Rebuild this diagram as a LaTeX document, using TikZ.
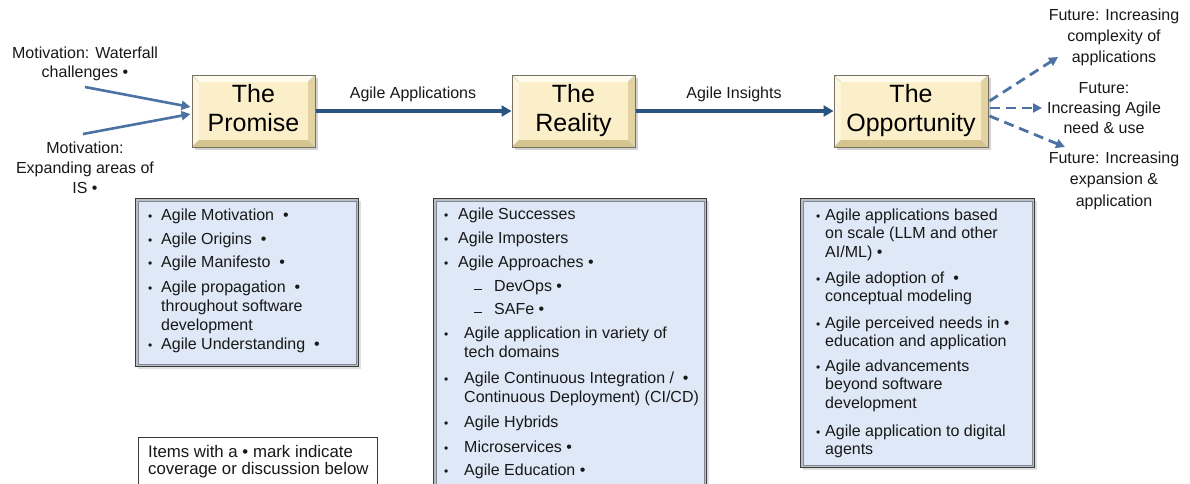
\documentclass[tikz,border=0pt]{standalone}
\usepackage{fontspec}
\setmainfont{Liberation Sans}
\usetikzlibrary{arrows.meta,calc,shadows}

\definecolor{arrowdark}{RGB}{42,84,128}
\definecolor{arrowlight}{RGB}{76,114,164}
\definecolor{stagefill}{RGB}{250,239,200}
\definecolor{stagelight}{RGB}{255,252,238}
\definecolor{stagedark}{RGB}{214,196,142}
\definecolor{stageedge}{RGB}{120,112,96}
\definecolor{listfill}{RGB}{222,232,246}
\definecolor{frameband}{RGB}{184,189,198}
\definecolor{frameinner}{RGB}{130,136,148}
\definecolor{ink}{RGB}{24,24,24}

% small leading bullet, hung to the left of the item text
\newcommand\lead[1]{\llap{{\fontsize{12}{12}\selectfont •}\hspace{#1}}}
% short low dash for second-level items
\newcommand\subdash{\llap{\rule[1pt]{8pt}{1.1pt}\hspace{12pt}}}
\newcommand\lines[1]{\begin{tabular}[t]{@{}l@{}}#1\end{tabular}}
\newcommand\clines[1]{\begin{tabular}[t]{@{}c@{}}#1\end{tabular}}

\tikzset{
  x=1pt, y=-1pt,
  bevel/.style={path picture={
    \path (path picture bounding box.north west) coordinate (p1)
          (path picture bounding box.north east) coordinate (p2)
          (path picture bounding box.south east) coordinate (p3)
          (path picture bounding box.south west) coordinate (p4);
    \path ([shift={(#1,-#1)}]p1) coordinate (q1)
          ([shift={(-#1,-#1)}]p2) coordinate (q2)
          ([shift={(-#1,#1)}]p3) coordinate (q3)
          ([shift={(#1,#1)}]p4) coordinate (q4);
    \fill[stagelight] (p1) -- (p2) -- (q2) -- (q1) -- cycle;
    \fill[stagelight!55!stagefill] (p1) -- (q1) -- (q4) -- (p4) -- cycle;
    \fill[stagedark] (p4) -- (q4) -- (q3) -- (p3) -- cycle;
    \fill[stagedark!65!stagefill] (p2) -- (p3) -- (q3) -- (q2) -- cycle;
    \draw[stageedge!35, line width=0.5pt] (p1) -- (q1) (p2) -- (q2) (p3) -- (q3) (p4) -- (q4);
  }},
  stagebox/.style={rectangle, minimum height=72pt, inner sep=0pt,
    fill=stagefill, draw=stageedge, line width=1pt, bevel=7pt,
    drop shadow={opacity=0.35, shadow xshift=2.5pt, shadow yshift=-2.5pt},
    font=\fontsize{25}{29}\selectfont, text=black},
  listbox/.style={rectangle, anchor=north west, inner sep=0pt,
    fill=listfill, draw=ink!85, line width=1.3pt,
    drop shadow={opacity=0.25, shadow xshift=2pt, shadow yshift=-2pt},
    path picture={
      \draw[frameband, line width=4pt]
        (path picture bounding box.north west) rectangle (path picture bounding box.south east);
      \draw[frameinner, line width=0.7pt]
        ([shift={(2.6pt,-2.6pt)}]path picture bounding box.north west) rectangle
        ([shift={(-2.6pt,2.6pt)}]path picture bounding box.south east);
    }},
  notebox/.style={rectangle, anchor=north west, inner sep=0pt,
    fill=white, draw=ink!85, line width=0.9pt},
  listline/.style={anchor=base west, inner sep=0pt, text=ink},
  caption/.style={anchor=base, inner sep=0pt, text=ink},
  mainarrow/.style={draw=arrowdark, line width=3.2pt,
    -{Triangle[length=10pt, width=11pt]}},
  motarrow/.style={draw=arrowlight, line width=2.6pt,
    -{Triangle[length=9pt, width=9pt]}},
  futarrow/.style={draw=arrowlight, line width=2.8pt,
    dash pattern=on 10pt off 6pt,
    -{Triangle[length=9pt, width=9pt]}},
}

\begin{document}
\begin{tikzpicture}
\useasboundingbox (0,0) rectangle (1190,483);
\clip (0,0) rectangle (1190,483);

% ---- the three stages ----
\node[stagebox, minimum width=123pt] (promise) at (253.5,111)
  {\begin{tabular}{@{}c@{}}The\\Promise\end{tabular}};
\node[stagebox, minimum width=123pt] (reality) at (573.5,111)
  {\begin{tabular}{@{}c@{}}The\\Reality\end{tabular}};
\node[stagebox, minimum width=154pt] (opportunity) at (911,111)
  {\begin{tabular}{@{}c@{}}The\\Opportunity\end{tabular}};

% ---- links between stages ----
\draw[mainarrow] (promise.east) -- (reality.west);
\draw[mainarrow] (reality.east) -- (opportunity.west);
\node[caption, font=\fontsize{16}{19}\selectfont] (apps) at (413,98) {Agile Applications};
\node[caption, font=\fontsize{16}{19}\selectfont] (insights) at (734,98) {Agile Insights};

% ---- motivations feeding the promise ----
\node[caption, font=\fontsize{16}{19}\selectfont] (mot1) at (85,58)
  {\clines{Motivation: Waterfall\\challenges~•}};
\node[caption, font=\fontsize{16}{20}\selectfont] (mot2) at (85,153)
  {\clines{Motivation:\\Expanding areas of\\IS~•}};
\coordinate (m1) at (85,87);
\coordinate (m2) at (83,134);
\draw[motarrow] (m1) -- ($(promise.west)+(-1,-4)$);
\draw[motarrow] (m2) -- ($(promise.west)+(-1,3)$);

% ---- future directions ----
\node[caption, font=\fontsize{16}{21}\selectfont] (fut1) at (1114,20)
  {\clines{Future: Increasing\\complexity of\\applications}};
\node[caption, font=\fontsize{16}{20}\selectfont] (fut2) at (1104,93)
  {\clines{Future:\\Increasing Agile\\need \& use}};
\node[caption, font=\fontsize{16}{21.5}\selectfont] (fut3) at (1114,163)
  {\clines{Future: Increasing\\expansion \&\\application}};
\coordinate (f1) at (1058,57);
\coordinate (f2) at (1042,108);
\coordinate (f3) at (1065,147);
\draw[futarrow] ($(opportunity.east)+(1,-10)$) -- (f1);
\draw[futarrow] ($(opportunity.east)+(1,-3)$) -- (f2);
\draw[futarrow] ($(opportunity.east)+(1,5)$) -- (f3);

% ---- topic lists ----
\node[listbox, minimum width=223pt, minimum height=168pt] (promiselist) at (135,198) {};
\node[listbox, minimum width=273pt, minimum height=300pt] (realitylist) at (433,198) {};
\node[listbox, minimum width=234pt, minimum height=269pt] (opplist) at (800,198) {};

\begin{scope}[every node/.append style={font=\fontsize{16}{19}\selectfont}]
\node[listline] (p1) at (161,220) {\lines{\lead{9pt}Agile Motivation~~•}};
\node[listline] (p2) at (161,244) {\lines{\lead{9pt}Agile Origins~~•}};
\node[listline] (p3) at (161,267) {\lines{\lead{9pt}Agile Manifesto~~•}};
\node[listline] (p4) at (161,292) {\lines{\lead{9pt}Agile propagation~~•\\throughout software\\development}};
\node[listline] (p5) at (161,349) {\lines{\lead{9pt}Agile Understanding~~•}};

\node[listline] (r1) at (458,219) {\lines{\lead{10pt}Agile Successes}};
\node[listline] (r2) at (458,243) {\lines{\lead{10pt}Agile Imposters}};
\node[listline] (r3) at (458,267) {\lines{\lead{10pt}Agile Approaches~•}};
\node[listline] (r4) at (494,291) {\lines{\subdash DevOps~•}};
\node[listline] (r5) at (494,314) {\lines{\subdash SAFe~•}};
\node[listline] (r6) at (464,338) {\lines{\lead{16pt}Agile application in variety of\\tech domains}};
\node[listline] (r7) at (464,383) {\lines{\lead{16pt}Agile Continuous Integration /~~•\\Continuous Deployment) (CI/CD)}};
\node[listline] (r8) at (464,427) {\lines{\lead{16pt}Agile Hybrids}};
\node[listline] (r9) at (464,452) {\lines{\lead{16pt}Microservices~•}};
\node[listline] (r10) at (464,475) {\lines{\lead{16pt}Agile Education~•}};
\end{scope}

\begin{scope}[every node/.append style={font=\fontsize{16}{18.7}\selectfont}]
\node[listline] (o1) at (825,220) {\lines{\lead{5pt}Agile applications based\\on scale (LLM and other\\AI/ML)~•}};
\node[listline] (o2) at (825,283) {\lines{\lead{5pt}Agile adoption of~~•\\conceptual modeling}};
\node[listline] (o3) at (825,328) {\lines{\lead{5pt}Agile perceived needs in~•\\education and application}};
\node[listline] (o4) at (825,371) {\lines{\lead{5pt}Agile advancements\\beyond software\\development}};
\node[listline] (o5) at (825,436) {\lines{\lead{5pt}Agile application to digital\\agents}};
\end{scope}

% ---- legend ----
\node[notebox, minimum width=239pt, minimum height=60pt] (legend) at (138,437) {};
\node[listline, font=\fontsize{16.8}{16.5}\selectfont] (legendtext) at (148,457)
  {\lines{Items with a • mark indicate\\coverage or discussion below}};
\end{tikzpicture}
\end{document}
